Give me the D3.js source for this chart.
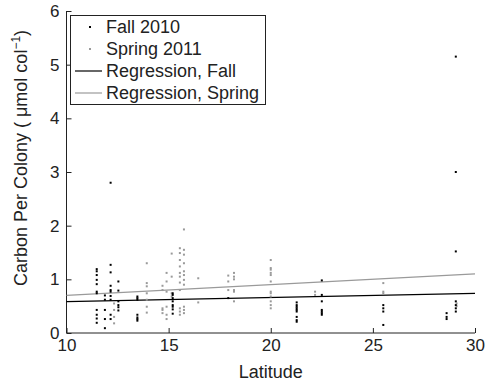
<!DOCTYPE html>
<html><head><meta charset="utf-8">
<script src="https://cdn.jsdelivr.net/npm/d3@7"></script>
<style>
body{margin:0;background:#fff}
svg{display:block}
text{font-family:"Liberation Sans",Arial,Helvetica,sans-serif;fill:#222}
</style>
</head><body>
<svg id="chart" width="486" height="386"></svg>
<script>
// ---- data ----
const xTicks = [10, 15, 20, 25, 30];
const yTicks = [0, 1, 2, 3, 4, 5, 6];

const fallLats = [11.48, 11.88, 12.16, 12.54, 13.47, 15.2, 17.92, 21.27, 22.5, 25.51, 28.61, 29.06];
const fallVals = [
  [1.19,1.15,1.08,0.99,0.91,0.77,0.74,0.43,0.34,0.27,0.19],
  [0.70,0.62,0.43,0.26,0.09],
  [2.80,1.27,1.13,0.88,0.80,0.77,0.69,0.62,0.34,0.26],
  [0.96,0.79,0.59,0.52,0.48,0.42],
  [0.68,0.65,0.62,0.34,0.29,0.26,0.23],
  [0.74,0.71,0.65,0.59,0.52,0.49,0.44,0.36],
  [0.65],
  [0.57,0.52,0.49,0.46,0.43,0.40,0.30,0.24,0.21],
  [0.98,0.71,0.59,0.43,0.40,0.37,0.34],
  [0.52,0.46,0.40,0.15],
  [0.37,0.30,0.26],
  [5.15,3.00,1.52,0.59,0.52,0.46,0.40]
];

const springLats = [12.33, 13.93, 14.7, 14.9, 15.15, 15.55, 15.75, 16.45, 17.92, 18.2, 20.0, 22.17, 25.51, 29.1];
const springVals = [
  [0.55,0.43,0.30,0.18],
  [1.30,0.93,0.87,0.74,0.62,0.49,0.38],
  [0.88,0.80,0.46,0.43,0.37],
  [1.12,0.96,0.77,0.49,0.34,0.26],
  [1.48,1.05,0.74,0.68],
  [1.58,1.49,1.36,1.24,1.12,1.05,0.94,0.80,0.46,0.40,0.34],
  [1.93,1.55,1.46,1.30,1.15,1.08,0.99,0.90,0.49,0.43,0.37],
  [1.02,0.57],
  [1.07,0.96,0.80],
  [1.12,1.05,1.00,0.80,0.77,0.59],
  [1.36,1.21,1.18,1.12,1.08,0.96,0.77,0.74,0.68,0.59,0.52,0.46],
  [0.77,0.71],
  [0.93,0.77,0.74],
  [0.55,0.50]
];

const regX = [10, 30];
const regFall = [0.585, 0.74];
const regSpring = [0.70, 1.10];

const legendLabels = ["Fall 2010", "Spring 2011", "Regression, Fall", "Regression, Spring"];

// ---- layout ----
const svg = d3.select("#chart");
const pL = 66.5, pR = 475, pT = 11, pB = 333;
const x = d3.scaleLinear().domain([10, 30]).range([pL, pR]);
const y = d3.scaleLinear().domain([0, 6]).range([pB, pT]);
const fsTick = 17, fsLab = 18;
const black = "#000", gray = "#9a9a9a";

// axes
const xAxis = svg.append("g").attr("transform", `translate(0,${pB})`)
  .call(d3.axisBottom(x).tickValues(xTicks).tickSize(-5).tickPadding(6).tickFormat(d3.format("d")));
const yAxis = svg.append("g").attr("transform", `translate(${pL},0)`)
  .call(d3.axisLeft(y).tickValues(yTicks).tickSize(-5).tickPadding(7).tickFormat(d3.format("d")));
[xAxis, yAxis].forEach(g => {
  g.select(".domain").attr("stroke", "#222").attr("stroke-width", 1);
  g.selectAll(".tick line").attr("stroke", "#222");
  g.selectAll(".tick text").attr("font-size", fsTick).attr("fill", "#222")
   .style("font-family", '"Liberation Sans",Arial,sans-serif');
});
xAxis.select(".domain").attr("d", `M${pL},0H${pR}`);
yAxis.select(".domain").attr("d", `M0,${pB}V${pT}`);

// regression lines
const line = d3.line().x(d => x(d[0])).y(d => y(d[1]));
svg.append("path").datum(regX.map((v, i) => [v, regSpring[i]]))
  .attr("d", line).attr("stroke", gray).attr("stroke-width", 1.2).attr("fill", "none");
svg.append("path").datum(regX.map((v, i) => [v, regFall[i]]))
  .attr("d", line).attr("stroke", black).attr("stroke-width", 1.2).attr("fill", "none");

// points
function flat(lats, vals) {
  const out = [];
  lats.forEach((la, i) => vals[i].forEach(v => out.push([la, v])));
  return out;
}
svg.append("g").selectAll("rect").data(flat(springLats, springVals)).join("rect")
  .attr("x", d => x(d[0]) - 1).attr("y", d => y(d[1]) - 1)
  .attr("width", 2).attr("height", 2).attr("fill", gray);
svg.append("g").selectAll("rect").data(flat(fallLats, fallVals)).join("rect")
  .attr("x", d => x(d[0]) - 1).attr("y", d => y(d[1]) - 1)
  .attr("width", 2).attr("height", 2).attr("fill", black);

// axis labels
svg.append("text").attr("x", (pL + pR) / 2).attr("y", 378)
  .attr("text-anchor", "middle").attr("font-size", fsLab).text("Latitude");
const yl = svg.append("text").attr("transform", `translate(27,158) rotate(-90)`)
  .attr("text-anchor", "middle").attr("font-size", fsLab);
yl.append("tspan").text("Carbon Per Colony ( \u03bcmol col");
yl.append("tspan").attr("dy", -7).attr("font-size", 12).text("\u22121");
yl.append("tspan").attr("dy", 7).text(")");

// legend
const lg = svg.append("g");
lg.append("rect").attr("x", 70.5).attr("y", 15.5).attr("width", 195).attr("height", 89)
  .attr("fill", "#fff").attr("stroke", "#222").attr("stroke-width", 1);
const rowY = [27, 49, 71, 93];
const styles = [
  {type: "pt", c: black}, {type: "pt", c: gray},
  {type: "ln", c: black}, {type: "ln", c: gray}
];
legendLabels.forEach((t, i) => {
  const s = styles[i];
  if (s.type === "pt") {
    lg.append("rect").attr("x", 89).attr("y", rowY[i] - 1).attr("width", 2).attr("height", 2).attr("fill", s.c);
  } else {
    lg.append("line").attr("x1", 75).attr("x2", 102).attr("y1", rowY[i]).attr("y2", rowY[i])
      .attr("stroke", s.c).attr("stroke-width", 1.2);
  }
  lg.append("text").attr("x", 106).attr("y", rowY[i]).attr("dy", "0.35em")
    .attr("font-size", fsLab).text(t);
});
</script>
</body></html>
